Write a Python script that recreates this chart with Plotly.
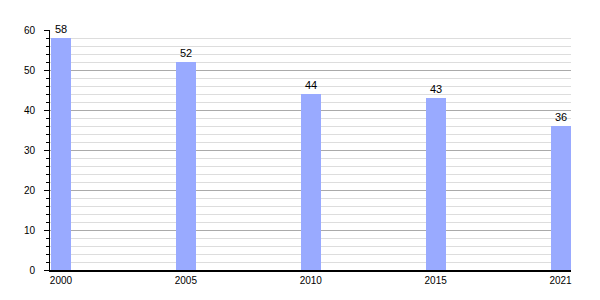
import plotly.graph_objects as go

years = ["2000", "2005", "2010", "2015", "2021"]
values = [58, 52, 44, 43, 36]

positions = list(range(len(years)))

fig = go.Figure()
fig.add_trace(go.Bar(
    x=positions, y=values, width=0.16,
    marker=dict(color="#99AAFF", line=dict(width=0)),
    text=[str(v) for v in values], textposition="outside",
    textfont=dict(family="Liberation Sans, Arial, sans-serif", size=11, color="#000"),
    cliponaxis=False,
))

fig.update_layout(
    width=600, height=300,
    margin=dict(l=50, r=29, t=30, b=30),
    plot_bgcolor="white", paper_bgcolor="white",
    font=dict(family="Liberation Sans, Arial, sans-serif", size=11, color="#000"),
    showlegend=False,
    bargap=0,
)
fig.update_xaxes(
    range=[-0.088, 4.084],
    tickmode="array", tickvals=positions, ticktext=years,
    tickfont=dict(size=10),
    showgrid=False, showline=True, linecolor="#000", linewidth=1.5,
    ticks="", zeroline=False,
)
fig.update_yaxes(
    range=[0, 60], tick0=0, dtick=10,
    tickfont=dict(size=10),
    showgrid=True, gridcolor="#aaaaaa", gridwidth=1,
    showline=True, linecolor="#000", linewidth=1,
    ticks="outside", ticklen=5, tickcolor="#000", tickwidth=1,
    ticklabelstandoff=7,
    minor=dict(dtick=2, showgrid=True, gridcolor="#dddddd", gridwidth=1,
               ticks="outside", ticklen=3, tickcolor="#000"),
    zeroline=False,
)

fig.write_html("out.html")
